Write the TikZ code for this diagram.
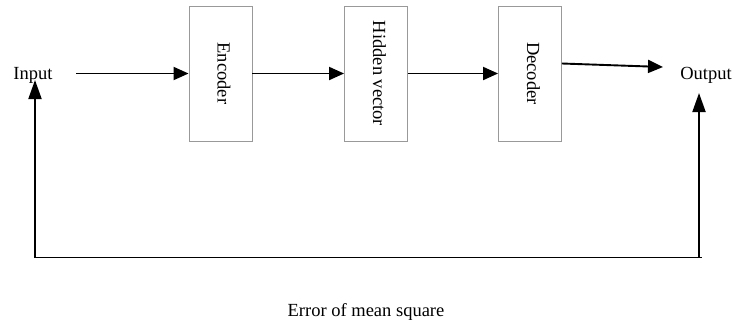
\documentclass[tikz,border=0pt]{standalone}
\usepackage{fontspec}
\setmainfont{Liberation Serif}
\usepackage{graphicx}
\usetikzlibrary{arrows.meta}

\newcommand{\stagetext}[1]{\hspace*{7pt}\rotatebox{-90}{\fontsize{18.5}{20}\selectfont #1}}

\tikzset{
  stage/.style={draw=black!40, line width=0.9pt, fill=white,
    minimum width=63pt, minimum height=135pt, inner sep=0pt},
  lbl/.style={inner sep=0pt, font=\fontsize{18.5}{20}\selectfont},
  flow/.style={line width=1.9pt, -{Triangle[length=15pt,width=13pt]}},
  rise/.style={line width=1.9pt, -{Triangle[length=19pt,width=13pt]}},
  loop/.style={line width=1.9pt},
}

\begin{document}
\begin{tikzpicture}[x=1pt,y=-1pt]
  \useasboundingbox (0,0) rectangle (735,322);

  % end labels
  \node[lbl, anchor=base] (in)  at (33,79.3)  {Input};
  \node[lbl, anchor=base] (out) at (706,79.3) {Output};
  \node[lbl, anchor=base] (err) at (366,316)  {Error of mean square};

  % processing stages
  \node[stage] (enc) at (220.5,73.5) {\stagetext{Encoder}};
  \node[stage] (hid) at (376,73.5)   {\stagetext{Hidden vector}};
  \node[stage] (dec) at (530,73.5)   {\stagetext{Decoder}};

  % free ends of connectors
  \coordinate (inStart) at (76,73.5);
  \coordinate (outTip)  at (663,67);
  \coordinate (inTip)   at (35,80);
  \coordinate (outRise) at (699,93);
  \coordinate (bl)      at (35,257.5);
  \coordinate (br)      at (699,257.5);
  \coordinate (brEnd)   at (702,257.5);

  % forward path
  \draw[flow] (inStart) -- (enc.west);
  \draw[flow] (enc.east) -- (hid.west);
  \draw[flow] (hid.east) -- (dec.west);
  \draw[flow] ([yshift=10pt]dec.east) -- (outTip);

  % feedback loop
  \draw[loop] (bl) -- (brEnd);
  \draw[rise] (bl) -- (inTip);
  \draw[rise] (br) -- (outRise);
\end{tikzpicture}
\end{document}
